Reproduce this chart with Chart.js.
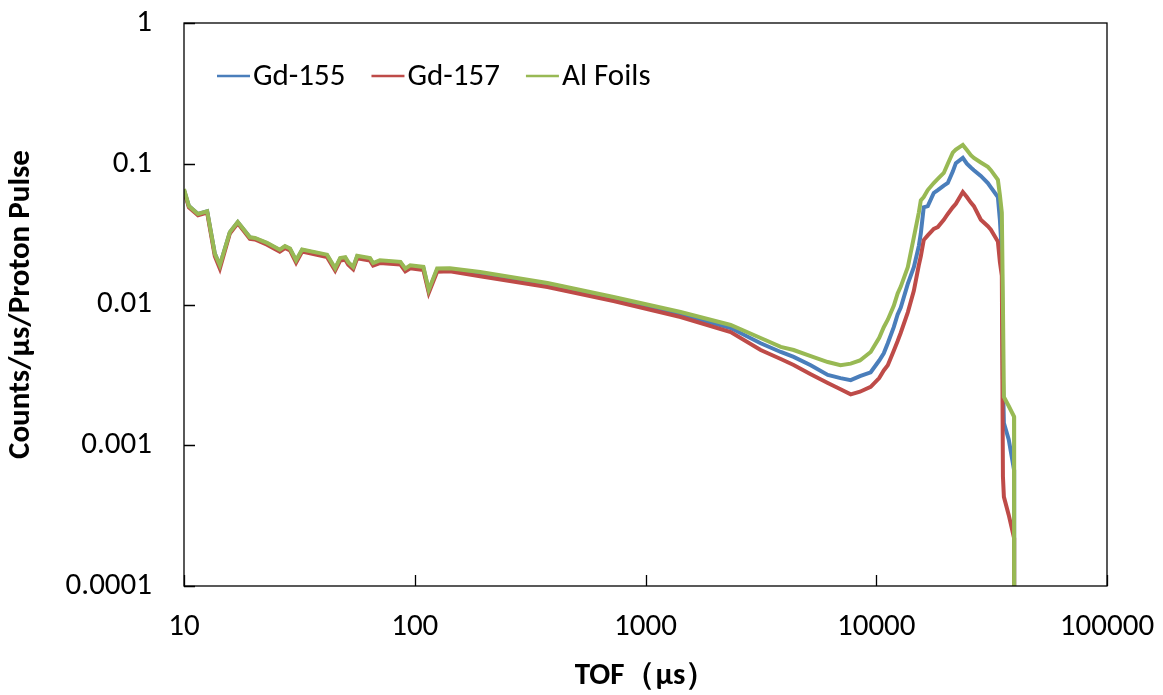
<!DOCTYPE html>
<html lang="en">
<head>
<meta charset="UTF-8">
<title>TOF spectrum</title>
<script src="https://cdn.jsdelivr.net/npm/chart.js"></script>
<style>
  body { margin: 0; background: #fff; }
  #chart { display: block; }
</style>
</head>
<body>
<canvas id="chart" width="1163" height="695"></canvas>
<script>
// TOF in microseconds, shared by the three series
const tof = [10, 10.5, 11.5, 12.6, 13.6, 14.3, 15.8, 17.1, 19.3, 20.3, 22.9, 26, 27.4, 28.8, 30.6, 32.5,
  41.7, 45.2, 47.5, 50, 51.5, 54.1, 56.3, 64, 66, 70.6, 86.7, 91, 95.6, 109, 115, 125, 142, 192,
  376, 727, 1419, 2339, 3155, 3856, 4385, 5200, 6165, 7000, 7750, 8500, 9460, 10300, 10780, 11220,
  11910, 12380, 12770, 13700, 14550, 15290, 15600, 16060, 16720, 17750, 18480, 19620, 20420, 21460,
  22130, 23720, 24700, 25700, 26490, 28390, 30450, 31390, 33660, 34340, 35010, 35400, 35740, 37500,
  39540, 39600];

const gd155 = [0.065, 0.050, 0.044, 0.046, 0.023, 0.019, 0.0325, 0.0384, 0.030, 0.0295, 0.0272, 0.0243, 0.0258, 0.0248, 0.0204, 0.0244,
  0.0223, 0.0179, 0.0211, 0.0214, 0.0198, 0.0183, 0.0219, 0.0211, 0.0195, 0.0203, 0.0198, 0.0178, 0.0187, 0.0182, 0.0125, 0.0177, 0.0178, 0.0164,
  0.0137, 0.0109, 0.0085, 0.0068, 0.0053, 0.0046, 0.00424, 0.0037, 0.00316, 0.0030, 0.0029, 0.0031, 0.0033, 0.0040, 0.0045, 0.0053,
  0.0069, 0.0085, 0.0095, 0.0140, 0.0184, 0.026, 0.032, 0.049, 0.050, 0.062, 0.065, 0.070, 0.073, 0.088,
  0.101, 0.110, 0.100, 0.094, 0.090, 0.082, 0.073, 0.068, 0.058, 0.040, 0.023, 0.0030, 0.00144, 0.0011,
  0.00067, 0.00001];

const gd157 = [0.064, 0.049, 0.043, 0.045, 0.022, 0.018, 0.032, 0.0378, 0.0293, 0.029, 0.0266, 0.0237, 0.0252, 0.0242, 0.0198, 0.0238,
  0.0217, 0.0174, 0.0205, 0.0208, 0.0192, 0.0178, 0.0213, 0.0205, 0.0189, 0.0197, 0.0192, 0.0172, 0.0181, 0.0176, 0.0121, 0.0171, 0.0172, 0.0159,
  0.0133, 0.0106, 0.00815, 0.00638, 0.00475, 0.0041, 0.00372, 0.0032, 0.00277, 0.0025, 0.0023, 0.0024, 0.0026, 0.0030, 0.0034, 0.0037,
  0.0047, 0.0055, 0.0063, 0.0088, 0.0125, 0.0190, 0.022, 0.0287, 0.031, 0.0345, 0.0355, 0.040, 0.044, 0.049,
  0.052, 0.063, 0.058, 0.053, 0.050, 0.040, 0.036, 0.034, 0.028, 0.020, 0.016, 0.0006, 0.00043, 0.00032,
  0.00022, 0.00001];

const alFoils = [0.066, 0.050, 0.044, 0.046, 0.023, 0.019, 0.0327, 0.0386, 0.030, 0.0297, 0.0274, 0.0245, 0.026, 0.025, 0.0206, 0.0246,
  0.0226, 0.0181, 0.0214, 0.0217, 0.0200, 0.0185, 0.0222, 0.0214, 0.0197, 0.0206, 0.0201, 0.018, 0.019, 0.0185, 0.0127, 0.018, 0.0181, 0.0170,
  0.0142, 0.0113, 0.00885, 0.00715, 0.00578, 0.0050, 0.00475, 0.0043, 0.0039, 0.0037, 0.0038, 0.0040, 0.0046, 0.0058, 0.0069, 0.0078,
  0.0098, 0.012, 0.0134, 0.0184, 0.030, 0.045, 0.055, 0.058, 0.065, 0.073, 0.078, 0.086, 0.100, 0.120,
  0.126, 0.136, 0.125, 0.115, 0.110, 0.102, 0.095, 0.090, 0.077, 0.060, 0.045, 0.0100, 0.0022, 0.0019,
  0.0016, 0.00001];

const seriesNames = ['Gd-155', 'Gd-157', 'Al Foils'];
const seriesColors = ['#4A7EBB', '#BE4B48', '#98B954'];
const xTicks = [10, 100, 1000, 10000, 100000];
const xTickLabels = ['10', '100', '1000', '10000', '100000'];
const yTicks = [0.0001, 0.001, 0.01, 0.1, 1];
const yTickLabels = ['0.0001', '0.001', '0.01', '0.1', '1'];

const FONT = "Carlito, Lato, 'Open Sans', sans-serif";
const FONT_SIZE = 31;

function points(ys) {
  return tof.map((x, i) => ({ x: x, y: ys[i] }));
}

// fixed box sizes so the plot area lands where the reference has it
function fitBox(s, w, h) {
  if (w) s.width = w;
  if (h) s.height = h;
  s.paddingTop = 0;
  s.paddingBottom = 0;
  s.paddingLeft = 0;
  s.paddingRight = 0;
}

// frame, inner tick marks and in-plot legend
const framePlugin = {
  id: 'framePlugin',
  afterDraw(chart) {
    const { ctx, chartArea: a, scales } = chart;
    ctx.save();
    ctx.strokeStyle = '#000';
    ctx.lineWidth = 1.3;
    ctx.strokeRect(a.left, a.top, a.right - a.left, a.bottom - a.top);
    ctx.beginPath();
    xTicks.forEach(v => {
      const px = Math.round(scales.x.getPixelForValue(v)) + 0.5;
      ctx.moveTo(px, a.bottom);
      ctx.lineTo(px, a.bottom - 11);
    });
    yTicks.forEach(v => {
      const py = Math.round(scales.y.getPixelForValue(v)) + 0.5;
      ctx.moveTo(a.left, py);
      ctx.lineTo(a.left + 11, py);
    });
    ctx.stroke();

    // legend
    ctx.font = FONT_SIZE + 'px ' + FONT;
    ctx.textBaseline = 'middle';
    ctx.fillStyle = '#000';
    let lx = 217;
    const ly = 76;
    seriesNames.forEach((name, i) => {
      ctx.strokeStyle = seriesColors[i];
      ctx.lineWidth = 2.5;
      ctx.beginPath();
      ctx.moveTo(lx, ly);
      ctx.lineTo(lx + 33, ly);
      ctx.stroke();
      ctx.fillText(name, lx + 36, ly + 1);
      lx += 36 + ctx.measureText(name).width + 26;
    });
    ctx.restore();
  }
};

new Chart(document.getElementById('chart'), {
  type: 'line',
  data: {
    datasets: [
      { label: seriesNames[0], data: points(gd155), borderColor: seriesColors[0], order: 3 },
      { label: seriesNames[1], data: points(gd157), borderColor: seriesColors[1], order: 2 },
      { label: seriesNames[2], data: points(alFoils), borderColor: seriesColors[2], order: 1 }
    ]
  },
  options: {
    responsive: false,
    animation: false,
    devicePixelRatio: 1,
    layout: { padding: { top: 23, right: 56, left: 0, bottom: 0 } },
    elements: {
      line: { borderWidth: 4, tension: 0 },
      point: { radius: 0 }
    },
    plugins: {
      legend: { display: false },
      tooltip: { enabled: false }
    },
    scales: {
      x: {
        type: 'logarithmic',
        min: 10,
        max: 100000,
        afterBuildTicks: s => { s.ticks = xTicks.map(v => ({ value: v })); },
        afterFit: s => fitBox(s, 0, 109),
        grid: { display: false, drawTicks: false },
        border: { display: false },
        ticks: {
          padding: 23,
          color: '#000',
          font: { family: FONT, size: FONT_SIZE },
          maxRotation: 0,
          autoSkip: false,
          callback: (v, i) => xTickLabels[i]
        },
        title: {
          display: true,
          text: 'TOF（μs）',
          color: '#000',
          font: { family: FONT, size: FONT_SIZE, weight: 'bold' },
          padding: { top: 0, bottom: 0 }
        }
      },
      y: {
        type: 'logarithmic',
        min: 0.0001,
        max: 1,
        afterBuildTicks: s => { s.ticks = yTicks.map(v => ({ value: v })); },
        afterFit: s => fitBox(s, 184, 0),
        grid: { display: false, drawTicks: false },
        border: { display: false },
        ticks: {
          padding: 32,
          color: '#000',
          font: { family: FONT, size: FONT_SIZE },
          autoSkip: false,
          callback: (v, i) => yTickLabels[i]
        },
        title: {
          display: true,
          text: 'Counts/μs/Proton Pulse',
          color: '#000',
          font: { family: FONT, size: FONT_SIZE, weight: 'bold' },
          padding: { top: 3, bottom: 0 }
        }
      }
    }
  },
  plugins: [framePlugin]
});
</script>
</body>
</html>
